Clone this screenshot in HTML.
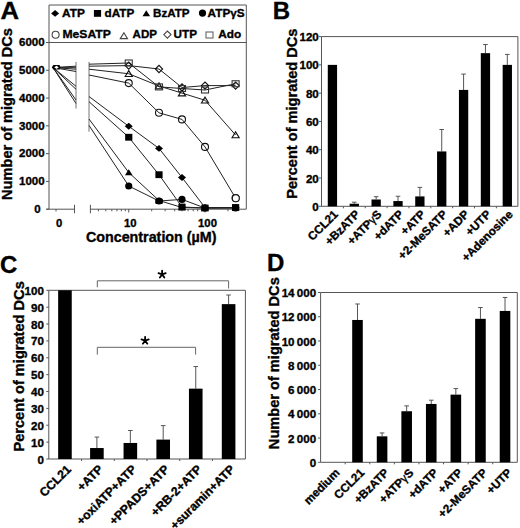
<!DOCTYPE html>
<html><head><meta charset="utf-8"><style>
html,body{margin:0;padding:0;background:#fff;width:520px;height:528px;overflow:hidden}
svg{display:block}
text{stroke:#000;stroke-width:0.35px;paint-order:stroke}
</style></head><body>
<svg width="520" height="528" viewBox="0 0 520 528">
<rect width="520" height="528" fill="#fff"/>
<text transform="translate(0.4,18.5) scale(1.07,1)" font-size="24" font-family="'Liberation Sans', sans-serif" font-weight="bold">A</text>
<path d="M49,5 H246.3 V209.2 M49,5 V209.2 M49,42.5 H246.3" stroke="#555" stroke-width="1" fill="none"/>
<path d="M46.5,209.2 H74.5 M90.4,209.2 H246.3" stroke="#555" stroke-width="1" fill="none"/>
<path d="M74.5,204.8 V213.3 M90.4,204.8 V213.3" stroke="#555" stroke-width="1" fill="none"/>
<path d="M56,209.2 V211.5" stroke="#555" stroke-width="1"/>
<path d="M98.41,209.2 V211.3 M105.80,209.2 V211.3 M111.83,209.2 V211.3 M116.94,209.2 V211.3 M121.36,209.2 V211.3 M125.26,209.2 V211.3 M151.70,209.2 V211.3 M165.13,209.2 V211.3 M174.66,209.2 V211.3 M182.05,209.2 V211.3 M188.08,209.2 V211.3 M193.19,209.2 V211.3 M197.61,209.2 V211.3 M201.51,209.2 V211.3 M227.95,209.2 V211.3 M128.75,209.2 V212.5 M205.00,209.2 V212.5" stroke="#555" stroke-width="1" fill="none"/>
<text x="40.6" y="213.00" font-size="11.5" text-anchor="end" font-family="'Liberation Sans', sans-serif" font-weight="bold">0</text>
<text x="44.6" y="185.22" font-size="11.5" text-anchor="end" font-family="'Liberation Sans', sans-serif" font-weight="bold">1000</text>
<text x="44.6" y="157.43" font-size="11.5" text-anchor="end" font-family="'Liberation Sans', sans-serif" font-weight="bold">2000</text>
<text x="44.6" y="129.65" font-size="11.5" text-anchor="end" font-family="'Liberation Sans', sans-serif" font-weight="bold">3000</text>
<text x="44.6" y="101.87" font-size="11.5" text-anchor="end" font-family="'Liberation Sans', sans-serif" font-weight="bold">4000</text>
<text x="44.6" y="74.08" font-size="11.5" text-anchor="end" font-family="'Liberation Sans', sans-serif" font-weight="bold">5000</text>
<text x="44.6" y="46.30" font-size="11.5" text-anchor="end" font-family="'Liberation Sans', sans-serif" font-weight="bold">6000</text>
<path d="M46,209.20 H49 M46,181.42 H49 M46,153.63 H49 M46,125.85 H49 M46,98.07 H49 M46,70.28 H49 M46,42.50 H49" stroke="#555" stroke-width="1" fill="none"/>
<text x="59.2" y="227.3" font-size="11.3" text-anchor="middle" font-family="'Liberation Sans', sans-serif" font-weight="bold">0</text>
<text x="130.3" y="227.3" font-size="11.3" text-anchor="middle" font-family="'Liberation Sans', sans-serif" font-weight="bold">10</text>
<text x="207.5" y="227.3" font-size="11.3" text-anchor="middle" font-family="'Liberation Sans', sans-serif" font-weight="bold">100</text>
<text x="151.2" y="242" font-size="14.3" text-anchor="middle" font-family="'Liberation Sans', sans-serif" font-weight="bold">Concentration (µM)</text>
<text transform="translate(11.9,114) rotate(-90)" font-size="14.6" text-anchor="middle" font-family="'Liberation Sans', sans-serif" font-weight="bold">Number of migrated DCs</text>
<path d="M76,61.9 V108.6 M89,61.9 V131.7" stroke="#777" stroke-width="1" fill="none"/>
<path d="M53,67.5 L76,86.3 M89,96.5 L128.75,126.25 L159,148.4 L182,177.5 L205,207.5 L235.6,207.5 M53,67.5 L76,89.3 M89,101.7 L128.75,137.25 L159,174.7 L182,207 L205,208 L235.6,207.5 M53,67.5 L76,100 M89,119 L128.75,172.5 L159,200.5 L182,207.5 L205,208 L235.6,208 M53,67.5 L76,103.5 M89,125.4 L128.75,186 L159,201 L182,199.4 L205,208 L235.6,208 M53,67.5 L76,71.5 M89,75 L128.75,83.1 L159,112.8 L182,119.4 L205,146.9 L235.6,198.1 M53,67.5 L76,69.2 M89,69.2 L128.75,73.75 L159,86 L182,93.1 L205,100.25 L235.6,135 M53,67.5 L76,67.7 M89,66.2 L128.75,65.6 L159,69 L182,87.5 L205,85.6 L235.6,85.6 M53,67.5 L76,66.2 M89,64.2 L128.75,63 L159,86.9 L182,88.5 L205,90 L235.6,83.75" stroke="#222" stroke-width="1" fill="none"/>
<path d="M124.75,126.25 L128.75,122.85 L132.75,126.25 L128.75,129.65Z" fill="#000"/><path d="M155,148.4 L159,145.0 L163,148.4 L159,151.8Z" fill="#000"/><path d="M178,177.5 L182,174.1 L186,177.5 L182,180.9Z" fill="#000"/><path d="M201,207.5 L205,204.1 L209,207.5 L205,210.9Z" fill="#000"/><path d="M231.6,207.5 L235.6,204.1 L239.6,207.5 L235.6,210.9Z" fill="#000"/><rect x="125.15" y="133.85" width="7.2" height="6.8" fill="#000"/><rect x="155.4" y="171.29999999999998" width="7.2" height="6.8" fill="#000"/><rect x="178.4" y="203.6" width="7.2" height="6.8" fill="#000"/><rect x="201.4" y="204.6" width="7.2" height="6.8" fill="#000"/><rect x="232.0" y="204.1" width="7.2" height="6.8" fill="#000"/><path d="M124.95,175.3 L128.75,169.3 L132.55,175.3Z" fill="#000"/><path d="M155.2,203.3 L159,197.3 L162.8,203.3Z" fill="#000"/><path d="M178.2,210.3 L182,204.3 L185.8,210.3Z" fill="#000"/><path d="M201.2,210.8 L205,204.8 L208.8,210.8Z" fill="#000"/><path d="M231.79999999999998,210.8 L235.6,204.8 L239.4,210.8Z" fill="#000"/><circle cx="128.75" cy="186" r="3.6" fill="#000"/><circle cx="159" cy="201" r="3.6" fill="#000"/><circle cx="182" cy="199.4" r="3.6" fill="#000"/><circle cx="205" cy="208" r="3.6" fill="#000"/><circle cx="235.6" cy="208" r="3.6" fill="#000"/><circle cx="128.75" cy="83.1" r="3.5" fill="none" stroke="#111" stroke-width="1.1"/><circle cx="159" cy="112.8" r="3.5" fill="none" stroke="#111" stroke-width="1.1"/><circle cx="182" cy="119.4" r="3.5" fill="none" stroke="#111" stroke-width="1.1"/><circle cx="205" cy="146.9" r="3.5" fill="none" stroke="#111" stroke-width="1.1"/><circle cx="235.6" cy="198.1" r="3.5" fill="none" stroke="#111" stroke-width="1.1"/><path d="M125.15,76.55 L128.75,70.65 L132.35,76.55Z" fill="none" stroke="#111" stroke-width="1.1"/><path d="M155.4,88.8 L159,82.9 L162.6,88.8Z" fill="none" stroke="#111" stroke-width="1.1"/><path d="M178.4,95.89999999999999 L182,90.0 L185.6,95.89999999999999Z" fill="none" stroke="#111" stroke-width="1.1"/><path d="M201.4,103.05 L205,97.15 L208.6,103.05Z" fill="none" stroke="#111" stroke-width="1.1"/><path d="M232.0,137.8 L235.6,131.9 L239.2,137.8Z" fill="none" stroke="#111" stroke-width="1.1"/><path d="M125.15,65.6 L128.75,61.99999999999999 L132.35,65.6 L128.75,69.19999999999999Z" fill="none" stroke="#111" stroke-width="1.1"/><path d="M155.4,69 L159,65.4 L162.6,69 L159,72.6Z" fill="none" stroke="#111" stroke-width="1.1"/><path d="M178.4,87.5 L182,83.9 L185.6,87.5 L182,91.1Z" fill="none" stroke="#111" stroke-width="1.1"/><path d="M201.4,85.6 L205,82.0 L208.6,85.6 L205,89.19999999999999Z" fill="none" stroke="#111" stroke-width="1.1"/><path d="M232.0,85.6 L235.6,82.0 L239.2,85.6 L235.6,89.19999999999999Z" fill="none" stroke="#111" stroke-width="1.1"/><rect x="125.25" y="60" width="7" height="6" fill="none" stroke="#333" stroke-width="1.1"/><rect x="155.5" y="83.9" width="7" height="6" fill="none" stroke="#333" stroke-width="1.1"/><rect x="178.5" y="85.5" width="7" height="6" fill="none" stroke="#333" stroke-width="1.1"/><rect x="201.5" y="87" width="7" height="6" fill="none" stroke="#333" stroke-width="1.1"/><rect x="232.1" y="80.75" width="7" height="6" fill="none" stroke="#333" stroke-width="1.1"/>
<circle cx="235.8" cy="198.3" r="3.5" fill="#fff" stroke="#111" stroke-width="1.1"/>
<rect x="155.4" y="198.4" width="7.4" height="5.6" rx="1.2" fill="#000"/>
<path d="M51.8,67.2 L53.4,64.9 L59.6,64.9 L60.3,67.2 L59.6,69.5 L53.4,69.5Z" fill="#000"/>
<path d="M54.2,67.3 L56.5,65.7 L58.8,67.3 L56.5,68.9Z" fill="#fff"/>
<path d="M51.1,13.4 L55.1,10.0 L59.1,13.4 L55.1,16.8Z" fill="#000"/>
<text x="62" y="16.9" font-size="11.6" textLength="22.8" lengthAdjust="spacingAndGlyphs" font-family="'Liberation Sans', sans-serif" font-weight="bold">ATP</text>
<rect x="93.9" y="10.0" width="7.2" height="6.8" fill="#000"/>
<text x="104.6" y="16.9" font-size="11.6" textLength="29.7" lengthAdjust="spacingAndGlyphs" font-family="'Liberation Sans', sans-serif" font-weight="bold">dATP</text>
<path d="M142.5,16.2 L146.3,10.2 L150.10000000000002,16.2Z" fill="#000"/>
<text x="153" y="16.9" font-size="11.6" textLength="36.6" lengthAdjust="spacingAndGlyphs" font-family="'Liberation Sans', sans-serif" font-weight="bold">BzATP</text>
<circle cx="202.5" cy="13.1" r="3.6" fill="#000"/>
<text x="207.6" y="16.9" font-size="11.6" textLength="37.0" lengthAdjust="spacingAndGlyphs" font-family="'Liberation Sans', sans-serif" font-weight="bold">ATPγS</text>
<circle cx="55.6" cy="34.75" r="3.5" fill="none" stroke="#444" stroke-width="1.1"/>
<text x="62.4" y="38.1" font-size="11.6" textLength="48.4" lengthAdjust="spacingAndGlyphs" font-family="'Liberation Sans', sans-serif" font-weight="bold">MeSATP</text>
<path d="M120.30000000000001,38.599999999999994 L123.9,32.699999999999996 L127.5,38.599999999999994Z" fill="none" stroke="#444" stroke-width="1.1"/>
<text x="132.6" y="38.1" font-size="11.6" textLength="24.4" lengthAdjust="spacingAndGlyphs" font-family="'Liberation Sans', sans-serif" font-weight="bold">ADP</text>
<path d="M163.8,34.6 L167.4,31.0 L171.0,34.6 L167.4,38.2Z" fill="none" stroke="#444" stroke-width="1.1"/>
<text x="173.6" y="38.1" font-size="11.6" textLength="23.4" lengthAdjust="spacingAndGlyphs" font-family="'Liberation Sans', sans-serif" font-weight="bold">UTP</text>
<rect x="206.0" y="32" width="7" height="6" fill="none" stroke="#666" stroke-width="1.1"/>
<text x="218.3" y="38.1" font-size="11.6" textLength="23.0" lengthAdjust="spacingAndGlyphs" font-family="'Liberation Sans', sans-serif" font-weight="bold">Ado</text>
<text x="272.8" y="19" font-size="24" font-family="'Liberation Sans', sans-serif" font-weight="bold">B</text>
<path d="M321.5,36.6 V206.3 H517.9 M321.5,36.6 H517.9 V206.3" stroke="#555" stroke-width="1" fill="none"/>
<text x="318.8" y="210.80" font-size="11.6" text-anchor="end" font-family="'Liberation Sans', sans-serif" font-weight="bold">0</text>
<text x="318.8" y="182.52" font-size="11.6" text-anchor="end" font-family="'Liberation Sans', sans-serif" font-weight="bold">20</text>
<text x="318.8" y="154.23" font-size="11.6" text-anchor="end" font-family="'Liberation Sans', sans-serif" font-weight="bold">40</text>
<text x="318.8" y="125.95" font-size="11.6" text-anchor="end" font-family="'Liberation Sans', sans-serif" font-weight="bold">60</text>
<text x="318.8" y="97.67" font-size="11.6" text-anchor="end" font-family="'Liberation Sans', sans-serif" font-weight="bold">80</text>
<text x="318.8" y="69.38" font-size="11.6" text-anchor="end" font-family="'Liberation Sans', sans-serif" font-weight="bold">100</text>
<text x="318.8" y="41.10" font-size="11.6" text-anchor="end" font-family="'Liberation Sans', sans-serif" font-weight="bold">120</text>
<path d="M319.0,206.30 H321.5 M319.0,178.02 H321.5 M319.0,149.73 H321.5 M319.0,121.45 H321.5 M319.0,93.17 H321.5 M319.0,64.88 H321.5 M319.0,36.60 H321.5 M343.36,206.3 V208.3 M365.22,206.3 V208.3 M387.08,206.3 V208.3 M408.94,206.3 V208.3 M430.80,206.3 V208.3 M452.66,206.3 V208.3 M474.52,206.3 V208.3 M496.38,206.3 V208.3" stroke="#555" stroke-width="1" fill="none"/>
<rect x="327.78" y="64.88" width="9.3" height="141.42" fill="#000"/>
<text transform="translate(338.63,215.10) rotate(-45)" font-size="11.7" text-anchor="end" font-family="'Liberation Sans', sans-serif" font-weight="bold">CCL21</text>
<path d="M354.29,203.75 V202.20 M351.99,202.20 H356.59" stroke="#555" stroke-width="1" fill="none"/>
<rect x="349.64" y="203.75" width="9.3" height="2.55" fill="#000"/>
<text transform="translate(360.49,215.10) rotate(-45)" font-size="11.7" text-anchor="end" font-family="'Liberation Sans', sans-serif" font-weight="bold">+BzATP</text>
<path d="M376.15,199.51 V196.68 M373.85,196.68 H378.45" stroke="#555" stroke-width="1" fill="none"/>
<rect x="371.50" y="199.51" width="9.3" height="6.79" fill="#000"/>
<text transform="translate(382.35,215.10) rotate(-45)" font-size="11.7" text-anchor="end" font-family="'Liberation Sans', sans-serif" font-weight="bold">+ATP<tspan font-weight="normal">γ</tspan>S</text>
<path d="M398.01,201.07 V196.26 M395.71,196.26 H400.31" stroke="#555" stroke-width="1" fill="none"/>
<rect x="393.36" y="201.07" width="9.3" height="5.23" fill="#000"/>
<text transform="translate(404.21,215.10) rotate(-45)" font-size="11.7" text-anchor="end" font-family="'Liberation Sans', sans-serif" font-weight="bold">+dATP</text>
<path d="M419.87,196.40 V187.35 M417.57,187.35 H422.17" stroke="#555" stroke-width="1" fill="none"/>
<rect x="415.22" y="196.40" width="9.3" height="9.90" fill="#000"/>
<text transform="translate(426.07,215.10) rotate(-45)" font-size="11.7" text-anchor="end" font-family="'Liberation Sans', sans-serif" font-weight="bold">+ATP</text>
<path d="M441.73,151.43 V129.51 M439.43,129.51 H444.03" stroke="#555" stroke-width="1" fill="none"/>
<rect x="437.08" y="151.43" width="9.3" height="54.87" fill="#000"/>
<text transform="translate(447.93,215.10) rotate(-45)" font-size="11.7" text-anchor="end" font-family="'Liberation Sans', sans-serif" font-weight="bold">+2-MeSATP</text>
<path d="M463.59,89.91 V74.08 M461.29,74.08 H465.89" stroke="#555" stroke-width="1" fill="none"/>
<rect x="458.94" y="89.91" width="9.3" height="116.39" fill="#000"/>
<text transform="translate(469.79,215.10) rotate(-45)" font-size="11.7" text-anchor="end" font-family="'Liberation Sans', sans-serif" font-weight="bold">+ADP</text>
<path d="M485.45,53.15 V44.52 M483.15,44.52 H487.75" stroke="#555" stroke-width="1" fill="none"/>
<rect x="480.80" y="53.15" width="9.3" height="153.15" fill="#000"/>
<text transform="translate(491.65,215.10) rotate(-45)" font-size="11.7" text-anchor="end" font-family="'Liberation Sans', sans-serif" font-weight="bold">+UTP</text>
<path d="M507.31,64.88 V54.42 M505.01,54.42 H509.61" stroke="#555" stroke-width="1" fill="none"/>
<rect x="502.66" y="64.88" width="9.3" height="141.42" fill="#000"/>
<text transform="translate(513.51,215.10) rotate(-45)" font-size="11.7" text-anchor="end" font-family="'Liberation Sans', sans-serif" font-weight="bold">+Adenosine</text>
<text transform="translate(297,113.7) rotate(-90)" font-size="14.6" text-anchor="middle" font-family="'Liberation Sans', sans-serif" font-weight="bold">Percent of migrated DCs</text>
<text x="0" y="272.6" font-size="24" font-family="'Liberation Sans', sans-serif" font-weight="bold">C</text>
<path d="M48.8,290.3 V459 H245.4 M48.8,290.3 H245.4 V459" stroke="#555" stroke-width="1" fill="none"/>
<text x="43.9" y="463.50" font-size="11.6" text-anchor="end" font-family="'Liberation Sans', sans-serif" font-weight="bold">0</text>
<text x="43.9" y="446.63" font-size="11.6" text-anchor="end" font-family="'Liberation Sans', sans-serif" font-weight="bold">10</text>
<text x="43.9" y="429.76" font-size="11.6" text-anchor="end" font-family="'Liberation Sans', sans-serif" font-weight="bold">20</text>
<text x="43.9" y="412.89" font-size="11.6" text-anchor="end" font-family="'Liberation Sans', sans-serif" font-weight="bold">30</text>
<text x="43.9" y="396.02" font-size="11.6" text-anchor="end" font-family="'Liberation Sans', sans-serif" font-weight="bold">40</text>
<text x="43.9" y="379.15" font-size="11.6" text-anchor="end" font-family="'Liberation Sans', sans-serif" font-weight="bold">50</text>
<text x="43.9" y="362.28" font-size="11.6" text-anchor="end" font-family="'Liberation Sans', sans-serif" font-weight="bold">60</text>
<text x="43.9" y="345.41" font-size="11.6" text-anchor="end" font-family="'Liberation Sans', sans-serif" font-weight="bold">70</text>
<text x="43.9" y="328.54" font-size="11.6" text-anchor="end" font-family="'Liberation Sans', sans-serif" font-weight="bold">80</text>
<text x="43.9" y="311.67" font-size="11.6" text-anchor="end" font-family="'Liberation Sans', sans-serif" font-weight="bold">90</text>
<text x="43.9" y="294.80" font-size="11.6" text-anchor="end" font-family="'Liberation Sans', sans-serif" font-weight="bold">100</text>
<path d="M46.3,459.00 H48.8 M46.3,442.13 H48.8 M46.3,425.26 H48.8 M46.3,408.39 H48.8 M46.3,391.52 H48.8 M46.3,374.65 H48.8 M46.3,357.78 H48.8 M46.3,340.91 H48.8 M46.3,324.04 H48.8 M46.3,307.17 H48.8 M46.3,290.30 H48.8 M81.53,459 V461 M114.26,459 V461 M146.99,459 V461 M179.72,459 V461 M212.45,459 V461" stroke="#555" stroke-width="1" fill="none"/>
<rect x="58.15" y="290.30" width="13.6" height="168.70" fill="#000"/>
<text transform="translate(71.75,470.10) rotate(-45)" font-size="12.2" text-anchor="end" font-family="'Liberation Sans', sans-serif" font-weight="bold">CCL21</text>
<path d="M96.90,448.03 V437.07 M94.60,437.07 H99.20" stroke="#555" stroke-width="1" fill="none"/>
<rect x="90.10" y="448.03" width="13.6" height="10.97" fill="#000"/>
<text transform="translate(103.70,470.10) rotate(-45)" font-size="12.2" text-anchor="end" font-family="'Liberation Sans', sans-serif" font-weight="bold">+ATP</text>
<path d="M130.35,442.97 V430.49 M128.05,430.49 H132.65" stroke="#555" stroke-width="1" fill="none"/>
<rect x="123.55" y="442.97" width="13.6" height="16.03" fill="#000"/>
<text transform="translate(137.15,470.10) rotate(-45)" font-size="12.2" text-anchor="end" font-family="'Liberation Sans', sans-serif" font-weight="bold">+oxiATP+ATP</text>
<path d="M163.20,439.60 V425.60 M160.90,425.60 H165.50" stroke="#555" stroke-width="1" fill="none"/>
<rect x="156.40" y="439.60" width="13.6" height="19.40" fill="#000"/>
<text transform="translate(170.00,470.10) rotate(-45)" font-size="12.2" text-anchor="end" font-family="'Liberation Sans', sans-serif" font-weight="bold">+PPADS+ATP</text>
<path d="M195.75,388.65 V366.55 M193.45,366.55 H198.05" stroke="#555" stroke-width="1" fill="none"/>
<rect x="188.95" y="388.65" width="13.6" height="70.35" fill="#000"/>
<text transform="translate(202.55,470.10) rotate(-45)" font-size="12.2" text-anchor="end" font-family="'Liberation Sans', sans-serif" font-weight="bold">+RB-2+ATP</text>
<path d="M228.60,304.13 V295.02 M226.30,295.02 H230.90" stroke="#555" stroke-width="1" fill="none"/>
<rect x="221.80" y="304.13" width="13.6" height="154.87" fill="#000"/>
<text transform="translate(235.40,470.10) rotate(-45)" font-size="12.2" text-anchor="end" font-family="'Liberation Sans', sans-serif" font-weight="bold">+suramin+ATP</text>
<text transform="translate(24.4,366.4) rotate(-90)" font-size="14.6" text-anchor="middle" font-family="'Liberation Sans', sans-serif" font-weight="bold">Percent of migrated DCs</text>
<path d="M97.3,287.3 V280.8 H228.6 V288.5 M97.3,354.6 V347.3 H195.6 V354.6" stroke="#666" stroke-width="1" fill="none"/>
<path d="M162.1,274.4 L162.10,270.60 M162.1,274.4 L165.71,273.23 M162.1,274.4 L164.33,277.47 M162.1,274.4 L159.87,277.47 M162.1,274.4 L158.49,273.23" stroke="#000" stroke-width="1.8" stroke-linecap="round" fill="none"/>
<path d="M145.1,340.6 L145.10,336.80 M145.1,340.6 L148.71,339.43 M145.1,340.6 L147.33,343.67 M145.1,340.6 L142.87,343.67 M145.1,340.6 L141.49,339.43" stroke="#000" stroke-width="1.8" stroke-linecap="round" fill="none"/>
<text x="267" y="271.3" font-size="24" font-family="'Liberation Sans', sans-serif" font-weight="bold">D</text>
<path d="M320.6,292.5 V462.3 H517.3 M320.6,292.5 H517.3 V462.3" stroke="#555" stroke-width="1" fill="none"/>
<text x="316.2" y="466.80" font-size="11.6" text-anchor="end" font-family="'Liberation Sans', sans-serif" font-weight="bold">0</text>
<text x="316.2" y="442.54" font-size="11.6" text-anchor="end" font-family="'Liberation Sans', sans-serif" font-weight="bold">2 000</text>
<text x="316.2" y="418.29" font-size="11.6" text-anchor="end" font-family="'Liberation Sans', sans-serif" font-weight="bold">4 000</text>
<text x="316.2" y="394.03" font-size="11.6" text-anchor="end" font-family="'Liberation Sans', sans-serif" font-weight="bold">6 000</text>
<text x="316.2" y="369.77" font-size="11.6" text-anchor="end" font-family="'Liberation Sans', sans-serif" font-weight="bold">8 000</text>
<text x="316.2" y="345.51" font-size="11.6" text-anchor="end" font-family="'Liberation Sans', sans-serif" font-weight="bold">10 000</text>
<text x="316.2" y="321.26" font-size="11.6" text-anchor="end" font-family="'Liberation Sans', sans-serif" font-weight="bold">12 000</text>
<text x="316.2" y="297.00" font-size="11.6" text-anchor="end" font-family="'Liberation Sans', sans-serif" font-weight="bold">14 000</text>
<path d="M318.1,462.30 H320.6 M318.1,438.04 H320.6 M318.1,413.79 H320.6 M318.1,389.53 H320.6 M318.1,365.27 H320.6 M318.1,341.01 H320.6 M318.1,316.76 H320.6 M318.1,292.50 H320.6 M345.19,462.3 V464.3 M369.78,462.3 V464.3 M394.37,462.3 V464.3 M418.96,462.3 V464.3 M443.55,462.3 V464.3 M468.14,462.3 V464.3 M492.73,462.3 V464.3" stroke="#555" stroke-width="1" fill="none"/>
<text transform="translate(340.40,473.50) rotate(-45)" font-size="11.7" text-anchor="end" font-family="'Liberation Sans', sans-serif" font-weight="bold">medium</text>
<path d="M357.49,319.97 V303.99 M355.19,303.99 H359.79" stroke="#555" stroke-width="1" fill="none"/>
<rect x="352.19" y="319.97" width="10.6" height="142.33" fill="#000"/>
<text transform="translate(364.99,473.50) rotate(-45)" font-size="11.7" text-anchor="end" font-family="'Liberation Sans', sans-serif" font-weight="bold">CCL21</text>
<path d="M382.08,436.34 V432.95 M379.78,432.95 H384.38" stroke="#555" stroke-width="1" fill="none"/>
<rect x="376.78" y="436.34" width="10.6" height="25.96" fill="#000"/>
<text transform="translate(389.58,473.50) rotate(-45)" font-size="11.7" text-anchor="end" font-family="'Liberation Sans', sans-serif" font-weight="bold">+BzATP</text>
<path d="M406.67,411.24 V405.90 M404.37,405.90 H408.97" stroke="#555" stroke-width="1" fill="none"/>
<rect x="401.37" y="411.24" width="10.6" height="51.06" fill="#000"/>
<text transform="translate(414.17,473.50) rotate(-45)" font-size="11.7" text-anchor="end" font-family="'Liberation Sans', sans-serif" font-weight="bold">+ATP<tspan font-weight="normal">γ</tspan>S</text>
<path d="M431.25,403.96 V400.20 M428.95,400.20 H433.56" stroke="#555" stroke-width="1" fill="none"/>
<rect x="425.95" y="403.96" width="10.6" height="58.34" fill="#000"/>
<text transform="translate(438.75,473.50) rotate(-45)" font-size="11.7" text-anchor="end" font-family="'Liberation Sans', sans-serif" font-weight="bold">+dATP</text>
<path d="M455.85,394.62 V388.56 M453.55,388.56 H458.15" stroke="#555" stroke-width="1" fill="none"/>
<rect x="450.55" y="394.62" width="10.6" height="67.68" fill="#000"/>
<text transform="translate(463.35,473.50) rotate(-45)" font-size="11.7" text-anchor="end" font-family="'Liberation Sans', sans-serif" font-weight="bold">+ATP</text>
<path d="M480.44,318.82 V307.54 M478.14,307.54 H482.74" stroke="#555" stroke-width="1" fill="none"/>
<rect x="475.14" y="318.82" width="10.6" height="143.48" fill="#000"/>
<text transform="translate(487.94,473.50) rotate(-45)" font-size="11.7" text-anchor="end" font-family="'Liberation Sans', sans-serif" font-weight="bold">+2-MeSATP</text>
<path d="M505.03,310.94 V297.47 M502.73,297.47 H507.33" stroke="#555" stroke-width="1" fill="none"/>
<rect x="499.73" y="310.94" width="10.6" height="151.36" fill="#000"/>
<text transform="translate(512.53,473.50) rotate(-45)" font-size="11.7" text-anchor="end" font-family="'Liberation Sans', sans-serif" font-weight="bold">+UTP</text>
<text transform="translate(278.7,363.2) rotate(-90)" font-size="14.6" text-anchor="middle" font-family="'Liberation Sans', sans-serif" font-weight="bold">Number of migrated DCs</text>
</svg>
</body></html>
